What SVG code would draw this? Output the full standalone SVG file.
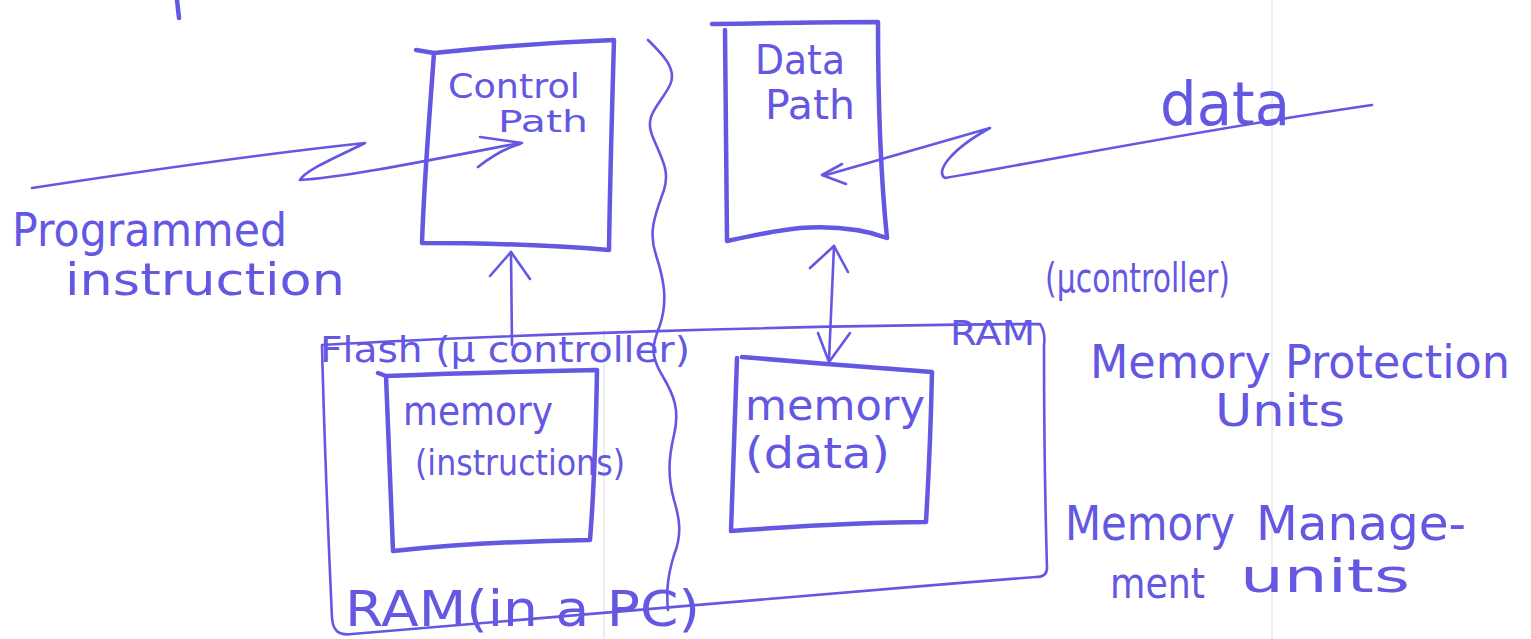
<svg xmlns="http://www.w3.org/2000/svg" width="1531" height="639" viewBox="0 0 1531 639">
  <defs>
    <style>
      .ink { fill: none; stroke: #6457e2; stroke-linecap: round; stroke-linejoin: round; }
      .bold { stroke-width: 4.5; }
      .thin { stroke-width: 2.6; }
      .lbl { fill: #6457e2; font-family: "DejaVu Sans", "Liberation Sans", sans-serif; }
      .fold { stroke: #ececec; stroke-width: 2; fill: none; }
    </style>
  </defs>
  <rect width="1531" height="639" fill="#ffffff"/>
  <!-- paper folds -->
  <line class="fold" x1="1272" y1="0" x2="1272" y2="639"/>
  <line class="fold" x1="604" y1="330" x2="604" y2="639"/>

  <!-- stray pen mark at the top -->
  <path class="ink bold" d="M177,0 L179,18"/>

  <!-- separator between instruction and data sides -->
  <path id="divider" class="ink thin" d="M648,40 C660,52 678,68 670,85 C660,105 644,115 652,135 C662,160 670,170 664,190 C655,215 648,232 656,255 C664,280 668,300 660,325 C652,345 650,355 662,375 C674,395 680,410 674,435 C668,460 668,478 674,500 C680,520 682,535 674,555 C668,575 666,590 668,610"/>

  <g id="control-path">
    <path class="ink bold" d="M416,50 L434,53 C500,46 560,42 614,40 C612,110 610,180 609,250 C560,246 490,243 422,243 C424,180 430,110 434,53"/>
    <text class="lbl" x="448" y="98" font-size="34" textLength="132" lengthAdjust="spacingAndGlyphs">Control</text>
    <text class="lbl" x="498" y="132" font-size="30" textLength="90" lengthAdjust="spacingAndGlyphs">Path</text>
  </g>

  <g id="data-path">
    <path class="ink bold" d="M712,24 C770,23 830,22 878,22 C878,100 880,170 887,238 C860,228 830,226 800,228 C780,230 750,236 727,241 C726,170 725,100 725,30"/>
    <text class="lbl" x="755" y="74" font-size="40" textLength="90" lengthAdjust="spacingAndGlyphs">Data</text>
    <text class="lbl" x="765" y="119" font-size="40" textLength="90" lengthAdjust="spacingAndGlyphs">Path</text>
  </g>

  <g id="memory-outer">
    <path class="ink thin" d="M322,345 C500,335 800,325 1040,324 C1044,330 1045,338 1044,345 C1044,420 1045,500 1047,568 C1047,574 1043,577 1036,577 C800,595 560,618 352,634 C338,636 333,630 332,618 C328,530 324,430 322,345"/>
    <text class="lbl" x="320" y="362" font-size="36" textLength="370" lengthAdjust="spacingAndGlyphs">Flash (μ controller)</text>
    <text class="lbl" x="950" y="345" font-size="34" textLength="85" lengthAdjust="spacingAndGlyphs">RAM</text>
    <text class="lbl" x="1045" y="292" font-size="40" textLength="185" lengthAdjust="spacingAndGlyphs">(μcontroller)</text>
    <text class="lbl" x="345" y="626" font-size="50" textLength="355" lengthAdjust="spacingAndGlyphs">RAM(in a PC)</text>
  </g>

  <g id="memory-instructions">
    <path class="ink bold" d="M378,373 L386,376 C460,373 540,371 597,370 C596,430 594,490 590,540 C520,541 450,545 393,551 C391,490 388,430 386,376"/>
    <text class="lbl" x="403" y="425" font-size="40" textLength="150" lengthAdjust="spacingAndGlyphs">memory</text>
    <text class="lbl" x="415" y="475" font-size="36" textLength="210" lengthAdjust="spacingAndGlyphs">(instructions)</text>
  </g>

  <g id="memory-data">
    <path class="ink bold" d="M742,357 C800,362 880,368 932,372 C931,420 929,470 926,522 C870,522 800,526 731,531 C733,470 735,410 737,358"/>
    <text class="lbl" x="745" y="420" font-size="42" textLength="180" lengthAdjust="spacingAndGlyphs">memory</text>
    <text class="lbl" x="745" y="468" font-size="42" textLength="145" lengthAdjust="spacingAndGlyphs">(data)</text>
  </g>

  <g id="notes">
    <text class="lbl" x="12" y="246" font-size="46" textLength="275" lengthAdjust="spacingAndGlyphs">Programmed</text>
    <text class="lbl" x="65" y="295" font-size="44" textLength="280" lengthAdjust="spacingAndGlyphs">instruction</text>
    <text class="lbl" x="1160" y="125" font-size="60" textLength="130" lengthAdjust="spacingAndGlyphs">data</text>
    <text class="lbl" x="1090" y="378" font-size="46" textLength="420" lengthAdjust="spacingAndGlyphs">Memory Protection</text>
    <text class="lbl" x="1215" y="426" font-size="44" textLength="130" lengthAdjust="spacingAndGlyphs">Units</text>
    <text class="lbl" x="1065" y="540" font-size="48" textLength="170" lengthAdjust="spacingAndGlyphs">Memory</text>
    <text class="lbl" x="1256" y="540" font-size="48" textLength="210" lengthAdjust="spacingAndGlyphs">Manage-</text>
    <text class="lbl" x="1110" y="598" font-size="42" textLength="95" lengthAdjust="spacingAndGlyphs">ment</text>
    <text class="lbl" x="1240" y="592" font-size="46" textLength="170" lengthAdjust="spacingAndGlyphs">units</text>
  </g>

  <g id="connectors">
    <!-- programmed instruction into control path -->
    <path class="ink thin" d="M32,188 C150,170 280,152 365,143 C335,158 305,170 300,180 C340,178 420,162 520,143"/>
    <path class="ink thin" d="M480,137 L522,143 M478,167 C492,156 506,148 520,144"/>
    <!-- data into data path -->
    <path class="ink thin" d="M1372,105 C1200,130 1050,160 945,178 C935,172 950,150 990,128 C930,145 880,160 826,175"/>
    <path class="ink thin" d="M842,164 L822,175 L846,184"/>
    <!-- instruction memory up to control path -->
    <path class="ink thin" d="M512,345 L511,252"/>
    <path class="ink thin" d="M490,276 L511,252 L530,279"/>
    <!-- data memory to and from data path -->
    <path class="ink thin" d="M834,246 L829,360"/>
    <path class="ink thin" d="M810,268 L834,246 L848,272"/>
    <path class="ink thin" d="M818,333 L829,362 L850,333"/>
  </g>
</svg>
